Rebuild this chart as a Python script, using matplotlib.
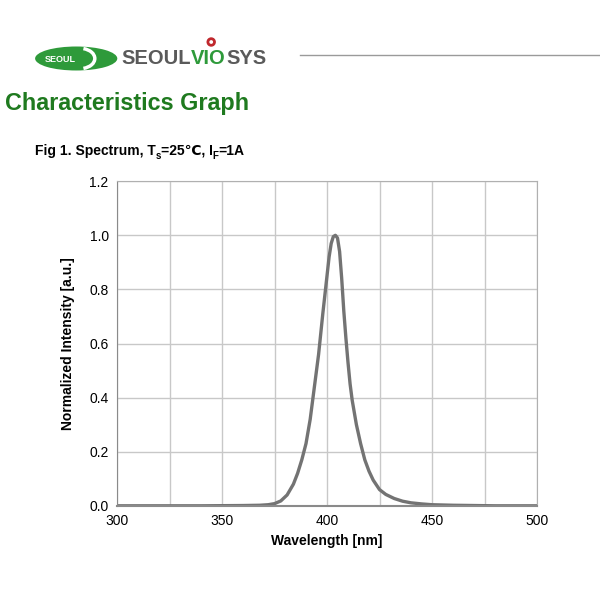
import matplotlib
matplotlib.use("Agg")
import matplotlib.pyplot as plt
from matplotlib.patches import Ellipse, Arc, Circle
import numpy as np

plt.rcParams['font.family'] = ['Liberation Sans', 'DejaVu Sans']

# spectrum
wavelength = [300, 340, 360, 368, 372, 375, 378, 381, 384, 386, 388, 390, 392,
              394, 396, 398, 400, 401, 402, 403, 404, 405, 406, 407, 408,
              409, 410, 411, 412, 414, 416, 418, 420, 422, 425, 428, 432,
              436, 440, 445, 450, 460, 480, 500]
intensity = [0.0, 0.0, 0.001, 0.002, 0.004, 0.008, 0.018, 0.04, 0.08, 0.12,
             0.17, 0.23, 0.32, 0.44, 0.56, 0.71, 0.85, 0.92, 0.97, 0.995,
             1.0, 0.99, 0.94, 0.84, 0.72, 0.62, 0.53, 0.45, 0.39, 0.3,
             0.23, 0.17, 0.128, 0.095, 0.06, 0.042, 0.027, 0.017, 0.011,
             0.007, 0.004, 0.002, 0.0, 0.0]

x_ticks = [300, 350, 400, 450, 500]
y_ticks = [0.0, 0.2, 0.4, 0.6, 0.8, 1.0, 1.2]

green = '#2e9a3a'
fig = plt.figure(figsize=(6, 6), dpi=100)


def chain(prev, s, size=10, color='black', dy=0, ycoord=None):
    # put a piece of text right after the previous one
    ref = (prev, ycoord if ycoord is not None else prev)
    return fig.add_artist(plt.Annotation(s, xy=(1, 0), xycoords=ref,
                                         xytext=(0, dy), textcoords='offset points',
                                         fontsize=size, fontweight='bold',
                                         color=color, va='bottom', ha='left'))


# logo
fig.patches.append(Ellipse((0.127, 0.9025), 0.137, 0.04, transform=fig.transFigure,
                           facecolor=green, edgecolor='none'))
fig.patches.append(Arc((0.133, 0.9025), 0.05, 0.034, theta1=-70, theta2=70,
                       transform=fig.transFigure, color='white', lw=2.5))
fig.text(0.1, 0.9015, 'SEOUL', color='white', fontsize=6.5, fontweight='bold',
         ha='center', va='center')
t1 = fig.text(0.203, 0.886, 'SEOUL', color='#5a5a5a', fontsize=14.5,
              fontweight='bold', va='bottom')
t2 = chain(t1, 'VIO', 14.5, green)
t3 = chain(t2, 'SYS', 14.5, '#5a5a5a')
fig.patches.append(Circle((0.352, 0.93), 0.0055, transform=fig.transFigure,
                          facecolor='white', edgecolor='#c0282d', lw=2))
fig.add_artist(plt.Line2D([0.5, 1.0], [0.908, 0.908], transform=fig.transFigure,
                          color='#9a9a9a', lw=1))

# title and caption
fig.text(0.008, 0.828, 'Characteristics Graph', color='#1f7a1f', fontsize=16.8,
         fontweight='bold', va='center')
c1 = fig.text(0.058, 0.737, 'Fig 1. Spectrum, T', fontsize=10, fontweight='bold',
              va='bottom')
c2 = chain(c1, 's', 7, dy=-2.6)
c3 = chain(c2, '=25℃, I', 10, ycoord=c1)
c4 = chain(c3, 'F', 7, dy=-2.6)
c5 = chain(c4, '=1A', 10, ycoord=c1)

ax = fig.add_axes([0.195, 0.157, 0.7, 0.541])
ax.plot(wavelength, intensity, color='#737373', lw=2.4)
ax.set_xlim(300, 500)
ax.set_ylim(0, 1.2)
ax.set_xticks(x_ticks)
ax.set_xticks(np.arange(300, 501, 25), minor=True)
ax.set_yticks(y_ticks)
ax.set_yticklabels([f'{v:.1f}' for v in y_ticks])
ax.grid(True, which='both', color='#c8c8c8', lw=1)
ax.set_axisbelow(True)
ax.tick_params(which='both', length=0, labelsize=10, pad=6)
for s in ax.spines.values():
    s.set_color('#b0b0b0')
ax.spines['bottom'].set_color('#8a8a8a')
ax.spines['bottom'].set_linewidth(1.5)
ax.spines['left'].set_color('#8a8a8a')
ax.set_xlabel('Wavelength [nm]', fontsize=10, fontweight='bold', labelpad=4)
ax.set_ylabel('Normalized Intensity [a.u.]', fontsize=10, fontweight='bold',
              labelpad=10)

fig.savefig('out.png', dpi=100, facecolor='white')
